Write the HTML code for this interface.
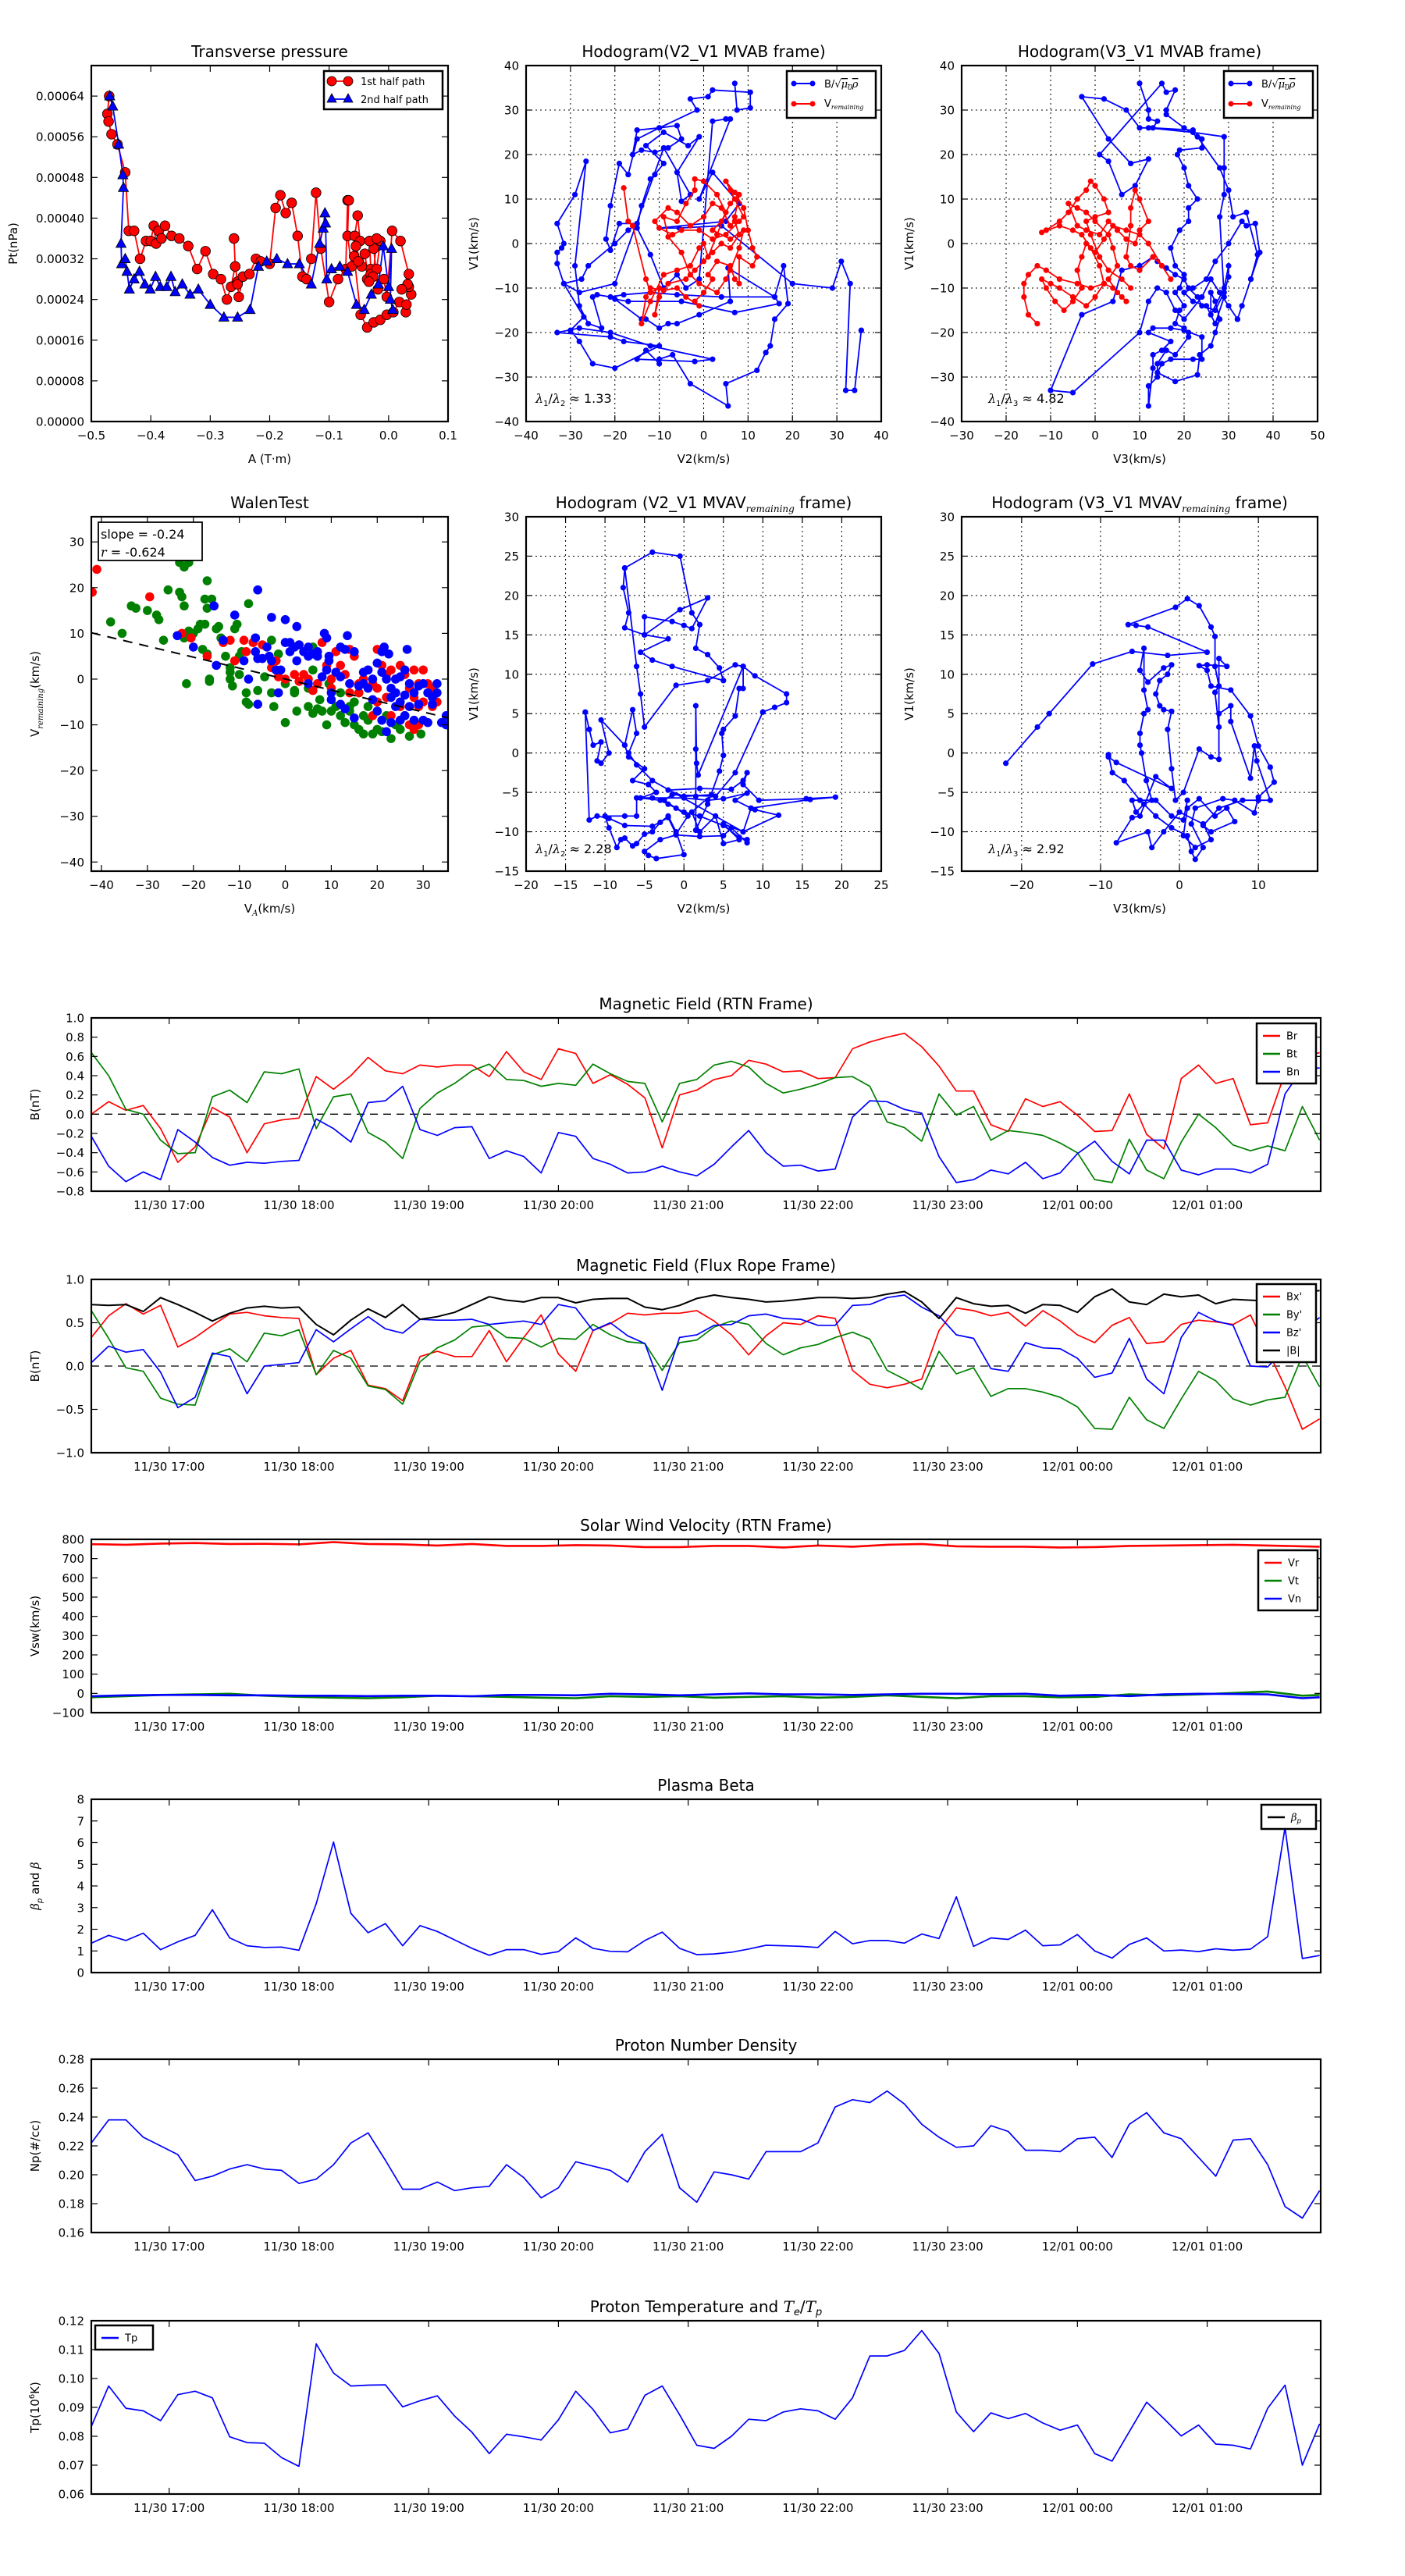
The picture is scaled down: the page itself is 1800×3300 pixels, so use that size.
<!DOCTYPE html>
<html>
<head>
<meta charset="utf-8">
<style>
html,body{margin:0;padding:0;background:#fff;}
svg{display:block;}
</style>
</head>
<body>
<svg id="chart" xmlns="http://www.w3.org/2000/svg" width="1800" height="3300" viewBox="0 0 1800 3300">
<rect x="0" y="0" width="1800" height="3300" fill="#fff"/>
</svg>
<script>
// ---------------- DATA ----------------
// Time-series grid (minutes after 11/30 16:00)
const tGrid = [24,32,40,48,56,64,72,80,88,96,104,112,120,128,136,144,152,160,168,176,184,192,200,208,216,224,232,240,248,256,264,272,280,288,296,304,312,320,328,336,344,352,360,368,376,384,392,400,408,416,424,432,440,448,456,464,472,480,488,496,504,512,520,528,536,544,552,560,568,576,584,592];
const timeTickValues = [60,120,180,240,300,360,420,480,540];
const timeTickLabels = ["11/30 17:00","11/30 18:00","11/30 19:00","11/30 20:00","11/30 21:00","11/30 22:00","11/30 23:00","12/01 00:00","12/01 01:00"];

const brValues = [0.00,0.13,0.04,0.09,-0.15,-0.50,-0.34,0.07,-0.03,-0.40,-0.10,-0.06,-0.04,0.39,0.26,0.40,0.59,0.45,0.42,0.51,0.49,0.51,0.51,0.39,0.65,0.44,0.36,0.68,0.63,0.32,0.41,0.31,0.17,-0.35,0.20,0.25,0.36,0.40,0.56,0.52,0.44,0.45,0.37,0.38,0.68,0.75,0.80,0.84,0.70,0.50,0.24,0.24,-0.11,-0.18,0.16,0.08,0.13,-0.01,-0.18,-0.17,0.21,-0.21,-0.36,0.37,0.51,0.32,0.37,-0.11,-0.09,0.43,0.59,0.64];
const btValues = [0.64,0.40,0.05,0.00,-0.27,-0.41,-0.40,0.18,0.25,0.12,0.44,0.42,0.47,-0.15,0.18,0.21,-0.19,-0.29,-0.46,0.06,0.22,0.32,0.45,0.52,0.36,0.35,0.29,0.32,0.30,0.52,0.42,0.34,0.32,-0.08,0.32,0.36,0.51,0.55,0.49,0.32,0.22,0.26,0.31,0.38,0.39,0.29,-0.08,-0.14,-0.28,0.21,-0.01,0.08,-0.27,-0.17,-0.19,-0.22,-0.30,-0.40,-0.68,-0.71,-0.26,-0.58,-0.67,-0.29,0.00,-0.14,-0.32,-0.38,-0.33,-0.38,0.08,-0.27];
const bnValues = [-0.23,-0.54,-0.70,-0.60,-0.68,-0.16,-0.29,-0.45,-0.53,-0.50,-0.51,-0.49,-0.48,-0.05,-0.15,-0.29,0.12,0.14,0.29,-0.16,-0.22,-0.14,-0.13,-0.46,-0.38,-0.44,-0.61,-0.19,-0.23,-0.46,-0.52,-0.61,-0.60,-0.54,-0.60,-0.64,-0.52,-0.34,-0.17,-0.40,-0.54,-0.53,-0.59,-0.57,-0.03,0.14,0.13,0.05,0.01,-0.44,-0.71,-0.68,-0.58,-0.62,-0.50,-0.67,-0.61,-0.41,-0.28,-0.49,-0.62,-0.27,-0.27,-0.58,-0.63,-0.57,-0.57,-0.61,-0.52,0.21,0.47,0.48];

const bxpValues = [0.33,0.58,0.72,0.60,0.70,0.22,0.33,0.47,0.60,0.62,0.58,0.56,0.55,-0.10,0.09,0.18,-0.22,-0.26,-0.40,0.11,0.17,0.11,0.11,0.41,0.05,0.33,0.59,0.14,-0.06,0.41,0.49,0.61,0.59,0.61,0.61,0.64,0.52,0.36,0.13,0.35,0.50,0.48,0.58,0.55,-0.05,-0.21,-0.25,-0.21,-0.15,0.41,0.67,0.64,0.58,0.62,0.46,0.64,0.52,0.36,0.27,0.47,0.56,0.26,0.28,0.48,0.53,0.51,0.48,0.59,0.18,-0.24,-0.73,-0.61];
const bypValues = [0.64,0.32,-0.02,-0.06,-0.37,-0.44,-0.45,0.13,0.20,0.05,0.38,0.35,0.42,-0.10,0.18,0.09,-0.23,-0.27,-0.44,0.05,0.21,0.30,0.45,0.47,0.33,0.32,0.22,0.32,0.31,0.48,0.36,0.28,0.26,-0.05,0.27,0.30,0.45,0.52,0.48,0.26,0.13,0.21,0.25,0.33,0.39,0.31,-0.05,-0.15,-0.27,0.17,-0.09,-0.02,-0.35,-0.26,-0.26,-0.30,-0.36,-0.47,-0.72,-0.73,-0.36,-0.62,-0.72,-0.38,-0.06,-0.17,-0.38,-0.45,-0.39,-0.36,0.12,-0.24];
const bzpValues = [0.04,0.23,0.16,0.19,-0.07,-0.48,-0.36,0.15,0.11,-0.32,0.00,0.02,0.04,0.42,0.28,0.43,0.57,0.43,0.38,0.54,0.53,0.53,0.54,0.48,0.50,0.52,0.48,0.71,0.67,0.41,0.50,0.35,0.26,-0.28,0.33,0.36,0.47,0.48,0.58,0.60,0.55,0.54,0.47,0.47,0.70,0.71,0.79,0.82,0.68,0.58,0.36,0.32,-0.03,-0.06,0.27,0.21,0.20,0.09,-0.13,-0.08,0.32,-0.15,-0.32,0.33,0.62,0.52,0.47,0.00,-0.01,0.20,0.41,0.56];
const bmagValues = [0.71,0.70,0.71,0.63,0.79,0.71,0.62,0.52,0.61,0.67,0.69,0.67,0.68,0.48,0.36,0.53,0.66,0.56,0.71,0.54,0.57,0.62,0.71,0.80,0.76,0.74,0.79,0.79,0.73,0.77,0.78,0.78,0.68,0.65,0.70,0.78,0.82,0.79,0.77,0.74,0.75,0.77,0.79,0.79,0.78,0.79,0.83,0.86,0.74,0.55,0.79,0.72,0.69,0.70,0.61,0.71,0.70,0.62,0.80,0.89,0.74,0.71,0.83,0.80,0.82,0.72,0.77,0.76,0.75,0.77,0.86,0.87];

const vTimes = [24,40,56,72,88,104,120,136,152,168,184,200,216,232,248,264,280,296,312,328,344,360,376,392,408,424,440,456,472,488,504,520,536,552,568,584,592];
const vrValues = [775,772,778,781,776,777,774,786,776,774,768,776,766,766,770,768,760,760,766,766,758,768,762,772,776,764,762,762,758,760,766,768,770,772,768,764,762];
const vtValues = [-20,-15,-8,-5,-2,-12,-18,-22,-25,-20,-12,-15,-18,-22,-25,-15,-18,-15,-22,-18,-15,-22,-18,-10,-18,-25,-15,-15,-20,-18,-5,-10,-5,2,10,-12,-8];
const vnValues = [-15,-10,-8,-8,-10,-10,-12,-12,-14,-12,-12,-15,-8,-8,-10,-2,-5,-10,-5,0,-5,-5,-8,-5,-2,-2,-4,-2,-12,-8,-14,-5,-2,-3,-5,-25,-20];

const betaValues = [1.36,1.72,1.48,1.82,1.06,1.42,1.72,2.90,1.60,1.24,1.16,1.18,1.03,3.18,6.03,2.74,1.84,2.26,1.24,2.17,1.90,1.51,1.12,0.80,1.06,1.06,0.84,0.97,1.60,1.12,0.98,0.96,1.48,1.87,1.12,0.83,0.86,0.94,1.09,1.26,1.24,1.21,1.16,1.90,1.33,1.48,1.48,1.36,1.78,1.57,3.50,1.21,1.60,1.53,1.96,1.24,1.28,1.76,1.00,0.67,1.30,1.60,1.00,1.04,0.97,1.10,1.03,1.08,1.66,6.70,0.65,0.79];
const npValues = [0.222,0.238,0.238,0.226,0.220,0.214,0.196,0.199,0.204,0.207,0.204,0.203,0.194,0.197,0.207,0.222,0.229,0.210,0.190,0.190,0.195,0.189,0.191,0.192,0.207,0.198,0.184,0.191,0.209,0.206,0.203,0.195,0.216,0.228,0.191,0.181,0.202,0.200,0.197,0.216,0.216,0.216,0.222,0.247,0.252,0.250,0.258,0.249,0.235,0.226,0.219,0.220,0.234,0.230,0.217,0.217,0.216,0.225,0.226,0.212,0.235,0.243,0.229,0.225,0.212,0.199,0.224,0.225,0.207,0.178,0.170,0.189];
const tpValues = [0.0834,0.0974,0.0897,0.0888,0.0854,0.0944,0.0956,0.0933,0.0798,0.0778,0.0776,0.0726,0.0696,0.1120,0.1019,0.0974,0.0977,0.0978,0.0902,0.0923,0.0940,0.0870,0.0814,0.0740,0.0807,0.0798,0.0787,0.0857,0.0956,0.0893,0.0812,0.0825,0.0942,0.0974,0.0875,0.0769,0.0758,0.0800,0.0859,0.0854,0.0884,0.0895,0.0888,0.0859,0.0933,0.1078,0.1078,0.1097,0.1166,0.1087,0.0884,0.0816,0.0881,0.0861,0.0879,0.0846,0.0821,0.0839,0.0740,0.0714,0.0816,0.0918,0.0861,0.0801,0.0839,0.0773,0.0769,0.0756,0.0897,0.0977,0.0700,0.0843];

// Transverse pressure: [A (T·m), Pt (x1e-4 nPa)]
const ptFirstHalf = [[-0.470,6.4],[-0.473,6.05],[-0.471,5.9],[-0.466,5.65],[-0.456,5.45],[-0.443,4.9],[-0.437,3.75],[-0.428,3.75],[-0.418,3.2],[-0.408,3.55],[-0.400,3.55],[-0.395,3.85],[-0.391,3.5],[-0.387,3.75],[-0.382,3.6],[-0.376,3.85],[-0.365,3.65],[-0.352,3.6],[-0.337,3.45],[-0.322,3.0],[-0.308,3.35],[-0.295,2.9],[-0.282,2.8],[-0.272,2.4],[-0.265,2.65],[-0.258,3.05],[-0.260,3.6],[-0.258,3.05],[-0.254,2.75],[-0.254,2.7],[-0.252,2.45],[-0.245,2.85],[-0.234,2.9],[-0.223,3.2],[-0.215,3.15],[-0.200,3.1],[-0.190,4.2],[-0.182,4.45],[-0.173,4.1],[-0.163,4.3],[-0.153,3.65],[-0.145,2.85],[-0.138,2.8],[-0.130,3.2],[-0.122,4.5],[-0.114,3.4],[-0.100,2.35],[-0.085,2.8],[-0.072,3.0],[-0.069,4.35],[-0.067,4.35],[-0.069,3.65],[-0.062,3.05],[-0.057,3.65],[-0.052,4.05],[-0.048,3.55],[-0.058,3.25],[-0.047,2.1],[-0.036,1.85],[-0.025,1.95],[-0.014,2.0],[-0.003,2.1],[0.008,2.15],[0.018,2.35],[0.029,2.15],[0.030,2.3],[0.038,2.5],[0.034,2.65],[0.032,2.7],[0.022,2.6],[0.034,2.9],[0.020,3.55],[0.006,3.75],[-0.003,2.45],[-0.008,2.8],[-0.018,2.6],[-0.025,3.4],[-0.032,3.55],[-0.030,3.0],[-0.036,2.8],[-0.030,2.9],[-0.020,3.0],[-0.014,3.55],[-0.020,3.6],[-0.026,2.85],[-0.033,2.75],[-0.040,3.3],[-0.045,3.05],[-0.055,3.45],[-0.051,3.15]];
const ptSecondHalf = [[-0.469,6.4],[-0.464,6.2],[-0.454,5.45],[-0.447,4.85],[-0.446,4.6],[-0.450,3.5],[-0.449,3.1],[-0.443,3.2],[-0.440,2.95],[-0.436,2.6],[-0.428,2.8],[-0.419,2.95],[-0.410,2.7],[-0.401,2.6],[-0.392,2.85],[-0.384,2.65],[-0.373,2.65],[-0.366,2.85],[-0.359,2.55],[-0.347,2.7],[-0.334,2.5],[-0.320,2.6],[-0.300,2.3],[-0.277,2.05],[-0.254,2.05],[-0.233,2.2],[-0.219,3.05],[-0.205,3.15],[-0.188,3.2],[-0.170,3.1],[-0.150,3.1],[-0.130,2.7],[-0.116,3.5],[-0.110,3.8],[-0.107,4.1],[-0.106,3.9],[-0.104,2.8],[-0.096,3.0],[-0.082,3.05],[-0.069,2.95],[-0.054,2.3],[-0.041,2.2],[-0.029,2.5],[-0.017,2.7],[-0.009,3.45],[0.000,2.65],[0.005,3.4],[0.003,2.4],[0.007,2.2]];

// Hodogram V2_V1 MVAB: [V2, V1]
const hodo1B = [[7,36],[7.5,30],[10.5,30.5],[10.5,34],[2,34.5],[1,33],[-3,32.5],[-1.5,30],[-10,26],[-6,26.5],[-5,23.5],[-8,21.5],[-11,20.5],[-14,21],[-16,20],[-15,25.5],[-10,26],[-15,23.5],[-17,15.5],[-19,18],[-21,8.5],[-22,1],[-21,-1.5],[-19,4.5],[-15,4.5],[-17,3],[-20,0],[-26,-5],[-27.5,-8],[-31.5,-9],[-33,-4.5],[-33,-2],[-32,-1],[-31.5,0],[-33,4.5],[-29,11],[-26.5,18.5],[-29,-5],[-28,-14],[-26,-18],[-23,-19],[-25,-12],[-24,-11.5],[-21,-12],[-18,-11.5],[-12,-11],[-6,-11.5],[4,-12],[16,-12],[17,-13.5],[7,-15.5],[-5,-13],[-17,-13],[-20,-12.5],[-14,-17],[-13,-17],[-10,-19],[-8,-18],[-6,-18],[-1,-16],[6,-13],[5.5,-5.5],[16,-12],[18,-5],[19,-13.5],[16,-17],[15,-23],[14,-24.5],[12,-28.5],[5,-31.5],[5.5,-36.5],[-3,-31.5],[-7,-25],[-10,-26],[-10,-27],[-13,-24],[-15,-26],[-2,-26.5],[2,-26],[-12,-23],[-21,-20],[-28,-19],[-33,-20],[-21,-21],[-18,-22],[-10,-23],[-20,-28],[-25,-27],[-28,-22],[-30,-19.5],[-27,-16.5],[-31.5,-9],[-28,-11],[-20,-9],[-9,21.5],[-3,11],[-5,9.5],[-6,16],[-1,24],[-3.5,22],[-9,25],[-13,22],[-9,18],[-11,15.5],[-12,14.5],[-14,8.5],[-15,3.5],[-12,-2.5],[-9,-10],[-6,-7],[-4,-10],[-1,-8],[2,27.5],[5,28],[6,28],[-1,10],[2,16],[8,9],[5,5],[-10,3.5],[-5.5,3.5],[4,4],[20,-9],[29,-10],[31,-4],[33,-9],[32,-33],[34,-33],[35.5,-19.5]];
const hodo1V = [[-18,12.5],[-17,5],[-16,4],[-13,-8],[-12,-11],[-10,-10],[-11,-16],[-10,-12],[-8,-9],[-4,-8],[-2,-6],[0,-4],[2,-2],[4,0],[6,-1],[8,2],[7,5],[6,4],[4,8],[2,9],[0,6],[-3,4],[-6,7],[-8,8],[-11,5],[-10,3.5],[-7,2],[-5,3],[-1,3],[2,1],[5,2],[8,5],[9,6],[7,10],[6,12],[5,14],[7,11.5],[9,8],[10,3],[11,-1],[12,-3],[11,-5],[8,-3],[8,-9],[7,-8],[6,-5],[3,-4],[1,-7],[2,-8],[0,-11],[-2,-13],[-1,-14],[-4,-12],[-6,-10],[-9,-10.5],[-12,-10],[-13,-12],[-14,-18],[-12,-13],[-9,-7],[-6,-6],[-3,-5],[-1,-1],[0,0],[1,-3],[3,2],[5,7],[3,11],[0,14],[-2,14.5],[-2,12],[-4,9],[-6,5],[-9,6],[-8,1.5],[-5,-2],[-3,-7],[-1,-9],[3,-11],[5,-8],[6,-6],[8,-1],[9,3],[6,1],[2,3],[4,5],[6,9],[8,11],[7,6]];

// Hodogram V3_V1 MVAB: [V3, V1]
const hodo2B = [[10,36],[12,30],[12,28],[14,27.5],[13,26],[22,25.5],[24,23.5],[24,21.5],[19,21],[18.5,20],[20,17],[21,13],[23,10],[21,8],[21,5],[19,3],[17,-1],[18,-5],[20,-7],[19,-10],[18,-11],[20,-14],[19,-15],[18,-18],[20,-19],[21,-20],[21,-21],[18,-25],[16,-24],[14,-27],[14,-30],[12,-32],[12,-36.5],[13,-28],[13,-25],[15,-24],[17,-22],[12,-20],[13,-19],[17,-19],[20,-19.5],[24,-21],[24,-26],[22,-26],[17,-26],[15,-27],[14,-29],[18,-31],[23,-29.5],[23.5,-25],[26,-23],[27,-20],[28,-17],[27,-13],[26,-11],[26,-16],[29,-10],[30,-5],[30,-7.5],[29,-11],[27,-15],[24,-14],[23,-12],[21,-10],[20,-8],[18,-7],[16,-5.5],[14,-4],[13,-3],[10,-5],[6,-6],[4,-13],[-3,-16],[-10,-33],[-5,-33.5],[10,-20],[12,-13],[14,-10],[16,-11],[18,-15],[20,-17],[24,-12],[26,-8],[28,-11],[30,-14],[32,-17],[33,-14],[35,-8],[37,-2],[36,4.5],[34,4],[33,5],[30,0],[27,-4],[25,-8],[22,-10],[20,-11],[22,-13],[25,-14],[27,-18],[29,-12],[28,6],[29,11],[29,17],[29,24],[22,25],[12,26],[10,26],[7,30],[2,32.5],[-3,33],[3,23.5],[8,18],[12,19],[9,13],[6,11],[3,18.5],[1,20],[15,36],[16,34],[18,34.5],[16,30],[16,29],[20,26],[23,24],[28,17],[30,12],[31,6],[34,7],[36.5,-2.5],[35,-8],[32,-17]];
const hodo2V = [[-13,-18],[-15,-16],[-16,-12],[-16,-9],[-15,-7],[-13,-5],[-11,-6],[-8,-8],[-4,-9],[-1,-10],[2,-9],[4,-10],[6,-12],[7,-13],[5,-11],[3,-8],[5,-5],[4,-1],[3,2],[0,5],[-2,7],[-4,8],[-6,9],[-4,4],[-2,3],[1,2],[3,5],[5,3],[7,1],[9,0],[10,3],[12,5],[10,10],[9,12],[8,8],[8,4],[7,-3],[8,-5],[10,-6],[13,-3],[15,-5],[17,-8],[15,-5],[12,0],[10,2],[7,3],[4,4],[2,1],[0,-2],[-2,0],[-3,-3],[-4,-6],[-3,-10],[-5,-13],[-7,-15],[-9,-13],[-11,-10],[-12,-8],[-10,-9],[-8,-10],[-5,-12],[-2,-14],[0,-12],[2,-9],[1,-5],[-1,-1],[-3,2],[-5,3],[-8,4],[-12,2.5],[-11,3],[-8,5],[-6,7],[-4,10],[-2,12],[-1,14],[0,13],[2,10],[3,7],[0,6],[-2,5],[-1,2],[1,-3],[3,-6],[6,-8],[8,-10]];

// Walen test: [V_A, V_remaining]
const walenRed = [[-42,19],[-41,24],[-29.5,18],[-22.5,10],[-20.5,9],[-17,5],[-13.5,8],[-12,8.5],[-11,4],[-9,8.5],[-8.5,6],[-7,8],[-5,7.5],[-3,2.5],[-2,4],[-1.5,0.5],[0,0],[2,1],[4,1],[5,0],[6,-2.5],[7,-1],[8,8],[9,3],[10,0],[11,6],[12,3],[13,1],[14,6.5],[15,5],[16,-3],[17,0],[18,2],[19,-1],[20,-2],[20,6.5],[21,3],[22,-4],[22,1],[23,2],[24,0],[24,-3],[25,3],[25,-6],[26,1],[26,-8],[27,-2],[27,-10],[28,2],[28,-4],[28,-11],[29,-1],[29,-6],[29,-10],[30,2],[30,-5],[31,-1],[32,-2],[32,-6],[33,-5],[20,-5],[19,-8],[23,-8],[25,-9],[14,-3],[16,-1],[10,-2],[3,-0.5]];
const walenGreen = [[-38,12.5],[-35.5,10],[-33.5,16],[-32.5,15.5],[-30,15],[-28,14],[-27.5,13],[-26.5,8.5],[-25.5,19.5],[-23,25.5],[-22,24.5],[-21,25.5],[-23,19],[-22.5,18],[-22,16],[-22,9],[-21,10.5],[-20,10],[-19,11],[-18.5,12],[-17.5,12],[-17,21.5],[-17.5,17.5],[-16,17.5],[-17,15.5],[-18,6.5],[-17,5.5],[-16.5,0],[-16.5,-0.5],[-21.5,-1],[-15,11],[-14.5,11.5],[-14,9],[-13,5],[-12,2.5],[-12,1.5],[-12,0],[-11.5,-1.5],[-11,11],[-10.5,12],[-10,5],[-10,1],[-9.5,6],[-8,16.5],[-8.5,-3],[-8.5,-5],[-8,-5.5],[-6.5,9],[-6,-2.5],[-4.5,0.5],[-3,8.5],[-3,-3],[-2.5,-6],[-2,2],[-1.5,5.5],[0,-9.5],[0,-1],[2,-3],[2,-2.5],[2.5,-7],[5,-2],[5,-6],[6,7],[6,2],[6,-7.5],[7,-6.5],[7.5,-4.5],[8,-7],[9,-10],[9.5,-1],[10,-7],[11,-6],[12,-8],[13,-9.5],[14,-7],[15,-5],[15,-10],[16,-11],[17,-8],[17,-12],[18,-9],[19,-12],[20,-11],[21,-11.5],[22,-8],[23,-13],[24,-10],[25,-11],[26,-8],[27,-12.5],[29.5,-12],[12,-3],[14,-6],[16,-3],[18,-6]];
const walenBlue = [[-23.5,9.5],[-20,7],[-15.5,16],[-15,3],[-13.5,8.5],[-11,14],[-9,4],[-8,0],[-6.5,9],[-6.5,6],[-6,19.5],[-6,4.5],[-6,-5.5],[-5,4.5],[-4,7],[-3.5,5],[-3,13.5],[-3,4],[-2,2],[-1.5,-3],[-1,2],[0,8],[0,13],[1,8],[1,6],[2,7],[2.5,4],[2.5,11.5],[3,7.5],[4,6],[5,7],[5,5],[5,-1],[6,5.5],[7,6],[7,5],[8,0.5],[8.5,10],[9,9],[9,2],[9.5,5],[9.5,4],[10,-3],[10,-4.5],[11,1.5],[12,7],[13,6.5],[12,0.5],[12,-5.5],[13,-6.5],[13.5,9.5],[14,-1],[15,6],[15,-8.5],[16,-1.5],[17,1.5],[17,-1],[18,2],[18,-2],[19,0],[19,-4.5],[20,3.5],[20,-7],[21,6],[21,1.5],[21,-9],[21.5,7],[22,0],[22,-11.5],[22.5,5.5],[23,-2],[23,-4],[23,-9.5],[24,0],[24,-3],[24,-6],[25,0.5],[25,-5],[25,-9],[26,2],[26,-3.5],[26,-8],[26.5,6.5],[27,-1],[27,-6],[28,-3],[28,-9],[29,-1.5],[29,-5.5],[30,-9],[30,-1],[31,-3],[31,-9.5],[32,-4],[32,-5.5],[33,-1],[33,-3],[34,-9.5],[35,-8],[35,-10]];
const walenSlope = [-0.24];

// Hodogram V2_V1 MVAV_remaining
const hodo3B = [[-7.5,23.5],[-4,25.5],[-0.5,25],[1,17.8],[2,16.3],[1.5,13.3],[3,12.5],[4.5,10.8],[5,9.2],[-1.5,11],[-4,11.8],[-5.5,12.8],[-2,14.5],[-5,15],[-5,17.3],[-1.5,16.7],[0,16.2],[1,15.8],[3,19.7],[-0.5,18.2],[-5,15],[-7.5,15.9],[-7,17.8],[-7.7,21],[-7.5,23.5],[-6,11],[-5.5,7.5],[-5,3.3],[-1,8.6],[3,9.2],[6.5,11.2],[7.5,11],[7.5,8.2],[7,8.2],[6.5,4.7],[5,3],[4.8,2.5],[5,-0.3],[4.5,-2.3],[3,-6.5],[1.5,-9.8],[1.5,-5.5],[1.5,0.5],[1.5,6],[1.6,-1.3],[1.8,-2.8],[7.5,11],[9,9.8],[13,7.5],[13,6.4],[11.5,5.8],[10,5.2],[6.5,-2.5],[4,-5.5],[-1.5,-5.3],[-2.5,-6],[0.5,-8],[-1,-10.3],[-2,-8.2],[-4,-9.3],[-7.5,-9.2],[-9.5,-8.3],[-11,-8],[-12,-8.5],[-12.5,5.2],[-12,3],[-11.5,1],[-10.5,1.4],[-11,-1],[-10.5,-1.3],[-9.5,0],[-10.5,4.2],[-7.5,1],[-7,-0.5],[-5,-2],[-6.5,-3.5],[-4.5,-4],[-3.5,-5],[-5.5,-5.7],[-3,-6],[-2,-6.5],[-1,-7],[0,-7.5],[2,-8],[5,-9.2],[7,-10.7],[8,-11],[8,-11.4],[6,-9.5],[5,-10.5],[2,-10.6],[-1,-10.4],[-3,-11],[-5,-12.5],[-4.5,-13],[-3.5,-13.4],[0,-12.9],[-1,-10],[-2,-8],[-3,-8.8],[-4,-10],[-5,-10.3],[-6,-11.5],[-6.5,-11.8],[-7.5,-10.8],[-8,-11],[-8.5,-12],[-9.5,-9.5],[-10,-8],[-7.5,-8],[-6,-8],[-6,-5.7],[-4,-5.7],[0,-5.7],[3,-6],[5,-5.8],[8,-5.1],[6.5,-6],[8.5,-7],[9,-7.2],[12,-7.9],[7.5,-10],[5,-9],[7,-11],[5,-11.5],[4,-8],[2,-10],[1,-7.5],[3.5,-5.3],[0,-5.5],[-2,-4.7],[2,-4.5],[6,-4.6],[7.5,-3.5],[8,-2.5],[7.5,-4],[9.5,-6],[15.5,-5.8],[19.2,-5.6],[16,-5.9],[8.5,-7],[7.5,-10],[-4,-3.5],[-6,-1.5],[-7,0],[-6,2.5],[-6.5,5.5],[-7.5,1]];
// Hodogram V3_V1 MVAV_remaining
const hodo4B = [[-22,-1.3],[-18,3.3],[-16.5,5],[-11,11.3],[-6,12.9],[-1.5,12.4],[3.5,12.8],[-4,16],[-5.5,16.2],[-6.5,16.3],[-0.5,18.5],[1,19.6],[2.5,18.7],[4,16],[4.5,14.8],[4.5,11],[5,8.5],[4.5,7.7],[5,3.3],[5,12],[6,11],[3.5,11.2],[2.5,11.1],[3.5,10.5],[4,8.5],[6.5,8],[9,4.7],[10,0.9],[11.5,-1.8],[12,-3.7],[10,-5.6],[9.5,-7.6],[7,-6],[5.5,-5.8],[2,-7],[1.5,-9],[3,-12],[2,-13.5],[1.5,-12.5],[1,-10.5],[-1,-9.5],[-3,-8],[-5,-6],[-7,-3.5],[-8.5,-2.5],[-9,-0.2],[-9,-0.5],[-8,-1.2],[-1,-4.5],[-3,-3],[-5,-8],[-6,-8.2],[-8,-11.4],[-4,-10],[-3.5,-12],[-2,-10],[0,-7.5],[3,-9],[4,-11],[2,-12],[0.5,-10.5],[1,-7],[2.5,-5.8],[4.5,-8],[6,-7],[7,-8.7],[4,-10],[3,-9.2],[5,-7],[8,-6],[10,-6],[11.5,-6],[9.8,-1],[9.5,0.9],[9,-3.2],[6.5,4],[6.5,6],[5,5],[5,-0.8],[4,-0.5],[2.5,0.5],[0.5,-5],[-0.5,-6],[-1,-2],[-1.5,3],[-1,5.3],[-2,5.5],[-2.5,6],[-3,7.5],[-2.5,9.2],[-1.5,10],[-1,11.2],[-2,10.8],[-4,9],[-5,10.5],[-4.5,13.3],[-4.5,8],[-4,5.5],[-4.5,5],[-5,2.5],[-5,1],[-4.8,0],[-4.2,-3.5],[-3.5,-6],[-4.5,-6.5],[-5.5,-7.5],[-6,-6],[-3,-6],[-1,-8],[0.5,-8.5],[1,-6]];

// ---------------- DRAWING ----------------
const NS = 'http://www.w3.org/2000/svg';
const svg = document.getElementById('chart');
const FONT = '"DejaVu Sans","Liberation Sans",sans-serif';
function el(tag, attrs, parent) {
  const e = document.createElementNS(NS, tag);
  for (const k in attrs) e.setAttribute(k, attrs[k]);
  (parent || svg).appendChild(e);
  return e;
}
function txt(str, attrs, parent) {
  const e = el('text', Object.assign({'font-family': FONT, fill: '#000'}, attrs), parent);
  e.textContent = str;
  return e;
}
function lin(d0, d1, r0, r1) { return v => r0 + (v - d0) / (d1 - d0) * (r1 - r0); }
function mfmt(v, dec) { const s = v.toFixed(dec); return (Math.abs(v) < 1e-12 ? Math.abs(v).toFixed(dec) : s).replace('-', '\u2212'); }
function range(a, b, s) { const r = []; for (let v = a; v <= b + s * 1e-6; v += s) r.push(+v.toFixed(8)); return r; }

function axes(o) {
  const g = el('g', {});
  
  
  const sx = lin(o.xd[0], o.xd[1], o.x, o.x + o.w);
  const sy = lin(o.yd[0], o.yd[1], o.y + o.h, o.y);
  const cp = el('clipPath', {id: 'clip-' + o.name}, g);
  el('rect', {x: o.x, y: o.y, width: o.w, height: o.h}, cp);
  const gridG = el('g', {}, g);
  
  
  const dataG = el('g', {'clip-path': 'url(#clip-' + o.name + ')'}, g);
  
  
  const frameG = el('g', {}, g);
  
  
  const TL = 8;
  o.xticks.forEach((v, i) => {
    const X = sx(v);
    if (X < o.x - 0.5 || X > o.x + o.w + 0.5) return;
    if (o.grid) {
      const gl = el('line', {x1: X, x2: X, y1: o.y, y2: o.y + o.h, stroke: '#000', 'stroke-width': 1, 'stroke-dasharray': '2,4'}, gridG);
      
      
    }
    const t1 = el('line', {x1: X, x2: X, y1: o.y + o.h, y2: o.y + o.h - TL, stroke: '#000', 'stroke-width': 1.2}, frameG);
    
    
    const t2 = el('line', {x1: X, x2: X, y1: o.y, y2: o.y + TL, stroke: '#000', 'stroke-width': 1.2}, frameG);
    
    
    const lab = txt(o.xlabels ? o.xlabels[i] : o.xfmt(v), {x: X, y: o.y + o.h + 23, 'font-size': 15, 'text-anchor': 'middle'}, frameG);
    
    
  });
  o.yticks.forEach(v => {
    const Y = sy(v);
    if (o.grid) {
      const gl = el('line', {x1: o.x, x2: o.x + o.w, y1: Y, y2: Y, stroke: '#000', 'stroke-width': 1, 'stroke-dasharray': '2,4'}, gridG);
      
      
    }
    const t1 = el('line', {x1: o.x, x2: o.x + TL, y1: Y, y2: Y, stroke: '#000', 'stroke-width': 1.2}, frameG);
    
    
    const t2 = el('line', {x1: o.x + o.w, x2: o.x + o.w - TL, y1: Y, y2: Y, stroke: '#000', 'stroke-width': 1.2}, frameG);
    
    
    const lab = txt(o.yfmt(v), {x: o.x - 9, y: Y + 5.5, 'font-size': 15, 'text-anchor': 'end'}, frameG);
    
    
  });
  const box = el('rect', {x: o.x, y: o.y, width: o.w, height: o.h, fill: 'none', stroke: '#000', 'stroke-width': 2.2}, frameG);
  
  
  if (o.title) {
    const t = txt('', {x: o.x + o.w / 2, y: o.y - 11, 'font-size': 20, 'text-anchor': 'middle'}, frameG);
    t.innerHTML = o.title;
    
    
  }
  if (o.xtitle) {
    const t = txt('', {x: o.x + o.w / 2, y: o.y + o.h + 53, 'font-size': 15, 'text-anchor': 'middle'}, frameG);
    t.innerHTML = o.xtitle;
    
    
  }
  if (o.ytitle) {
    const t = txt('', {x: 0, y: 0, 'font-size': 15, 'text-anchor': 'middle', transform: 'translate(' + o.ytx + ',' + (o.y + o.h / 2) + ') rotate(-90)'}, frameG);
    t.innerHTML = o.ytitle;
    
    
  }
  return {g, dataG, frameG, sx, sy};
}
function polyline(ax, xs, ys, color, width, parent) {
  const pts = xs.map((x, i) => ax.sx(x).toFixed(1) + ',' + ax.sy(ys[i]).toFixed(1)).join(' ');
  return el('polyline', {points: pts, fill: 'none', stroke: color, 'stroke-width': width, 'stroke-linejoin': 'round'}, parent || ax.dataG);
}
function legendBox(x, y, w, h, parent) {
  const r = el('rect', {x, y, width: w, height: h, fill: '#fff', stroke: '#000', 'stroke-width': 2.5}, parent);
  return r;
}

// ---------- Transverse pressure ----------
{
  const ax = axes({name: 'transverse-pressure', x: 117, y: 84, w: 457, h: 456, xd: [-0.5, 0.1], yd: [0, 0.0007],
    xticks: range(-0.5, 0.1, 0.1), yticks: range(0, 0.00064, 0.00008), xfmt: v => mfmt(v, 1), yfmt: v => v.toFixed(5),
    title: 'Transverse pressure', xtitle: 'A (T·m)', ytitle: 'Pt(nPa)', ytx: 22});
  const sy = v => ax.sy(v * 1e-4);
  const l1 = el('polyline', {points: ptFirstHalf.map(p => ax.sx(p[0]) + ',' + sy(p[1])).join(' '), fill: 'none', stroke: '#f00', 'stroke-width': 1.8}, ax.dataG);
  
  
  const l2 = el('polyline', {points: ptSecondHalf.map(p => ax.sx(p[0]) + ',' + sy(p[1])).join(' '), fill: 'none', stroke: '#00f', 'stroke-width': 1.8}, ax.dataG);
  
  
  ptFirstHalf.forEach(p => {
    const c = el('circle', {cx: ax.sx(p[0]), cy: sy(p[1]), r: 6.3, fill: '#f00', stroke: '#000', 'stroke-width': 0.8}, ax.dataG);
    
    
  });
  ptSecondHalf.forEach(p => {
    const X = ax.sx(p[0]), Y = sy(p[1]);
    const t = el('polygon', {points: `${X},${Y - 7} ${X - 6.5},${Y + 5} ${X + 6.5},${Y + 5}`, fill: '#00f', stroke: '#000', 'stroke-width': 0.8}, ax.dataG);
    
    
  });
  const lg = el('g', {}, ax.frameG);
  
  
  legendBox(415, 91, 152, 49, lg);
  el('line', {x1: 425, x2: 446, y1: 104, y2: 104, stroke: '#f00', 'stroke-width': 1.8}, lg);
  el('circle', {cx: 425, cy: 104, r: 6, fill: '#f00', stroke: '#000', 'stroke-width': 0.8}, lg);
  el('circle', {cx: 446, cy: 104, r: 6, fill: '#f00', stroke: '#000', 'stroke-width': 0.8}, lg);
  const e1 = txt('1st half path', {x: 462, y: 109, 'font-size': 13}, lg);
  
  
  el('line', {x1: 425, x2: 446, y1: 127, y2: 127, stroke: '#00f', 'stroke-width': 1.8}, lg);
  el('polygon', {points: '425,120 419,131 431,131', fill: '#00f', stroke: '#000', 'stroke-width': 0.8}, lg);
  el('polygon', {points: '446,120 440,131 452,131', fill: '#00f', stroke: '#000', 'stroke-width': 0.8}, lg);
  const e2 = txt('2nd half path', {x: 462, y: 132, 'font-size': 13}, lg);
  
  
}

// ---------- Hodograms ----------
function hodoLegend(ax, x, showV) {
  const lg = el('g', {}, ax.frameG);
  
  
  legendBox(x, 91, 114, 60, lg);
  el('line', {x1: x + 9, x2: x + 33, y1: 107, y2: 107, stroke: '#00f', 'stroke-width': 2}, lg);
  el('circle', {cx: x + 9, cy: 107, r: 3.5, fill: '#00f'}, lg);
  el('circle', {cx: x + 33, cy: 107, r: 3.5, fill: '#00f'}, lg);
  const a = txt('', {x: x + 48, y: 112, 'font-size': 13}, lg);
  a.innerHTML = 'B/<tspan font-family="DejaVu Serif" font-style="italic">√<tspan text-decoration="overline">μ<tspan font-size="9" dy="3">0</tspan><tspan dy="-3">ρ</tspan></tspan></tspan>';
  
  
  el('line', {x1: x + 9, x2: x + 33, y1: 133, y2: 133, stroke: '#f00', 'stroke-width': 2}, lg);
  el('circle', {cx: x + 9, cy: 133, r: 3.5, fill: '#f00'}, lg);
  el('circle', {cx: x + 33, cy: 133, r: 3.5, fill: '#f00'}, lg);
  const b = txt('', {x: x + 48, y: 137, 'font-size': 13}, lg);
  b.innerHTML = 'V<tspan font-size="8" font-style="italic" font-family="DejaVu Serif" dy="3">remaining</tspan>';
  
  
}
function drawPath(ax, pts, color, name) {
  const l = el('polyline', {points: pts.map(p => ax.sx(p[0]).toFixed(1) + ',' + ax.sy(p[1]).toFixed(1)).join(' '), fill: 'none', stroke: color, 'stroke-width': 1.8}, ax.dataG);
  
  
  pts.forEach(p => {
    const c = el('circle', {cx: ax.sx(p[0]), cy: ax.sy(p[1]), r: 3.6, fill: color}, ax.dataG);
    
    
  });
}
function lambdaLabel(ax, x, y, sub, val) {
  const t = txt('', {x, y, 'font-size': 16}, ax.frameG);
  t.innerHTML = '<tspan font-family="DejaVu Serif" font-style="italic">λ</tspan><tspan font-size="10" dy="4">1</tspan><tspan dy="-4">/</tspan><tspan font-family="DejaVu Serif" font-style="italic">λ</tspan><tspan font-size="10" dy="4">' + sub + '</tspan><tspan dy="-4"> ≈ ' + val + '</tspan>';
  
  
}
{
  const ax = axes({name: 'hodogram-v2-v1-mvab', x: 674, y: 84, w: 455, h: 456, xd: [-40, 40], yd: [-40, 40],
    xticks: range(-40, 40, 10), yticks: range(-40, 40, 10), xfmt: v => mfmt(v, 0), yfmt: v => mfmt(v, 0), grid: true,
    title: 'Hodogram(V2_V1 MVAB frame)', xtitle: 'V2(km/s)', ytitle: 'V1(km/s)', ytx: 612});
  drawPath(ax, hodo1B, '#00f', 'b-hodogram');
  drawPath(ax, hodo1V, '#f00', 'v-remaining-hodogram');
  hodoLegend(ax, 1008);
  lambdaLabel(ax, 686, 516, '2', '1.33');
}
{
  const ax = axes({name: 'hodogram-v3-v1-mvab', x: 1232, y: 84, w: 456, h: 456, xd: [-30, 50], yd: [-40, 40],
    xticks: range(-30, 50, 10), yticks: range(-40, 40, 10), xfmt: v => mfmt(v, 0), yfmt: v => mfmt(v, 0), grid: true,
    title: 'Hodogram(V3_V1 MVAB frame)', xtitle: 'V3(km/s)', ytitle: 'V1(km/s)', ytx: 1170});
  drawPath(ax, hodo2B, '#00f', 'b-hodogram');
  drawPath(ax, hodo2V, '#f00', 'v-remaining-hodogram');
  hodoLegend(ax, 1568);
  lambdaLabel(ax, 1266, 516, '3', '4.82');
}
// ---------- Walen test ----------
{
  const ax = axes({name: 'walen-test', x: 117, y: 662, w: 457, h: 454, xd: [-42.2, 35.4], yd: [-42, 35.5],
    xticks: range(-40, 30, 10), yticks: range(-40, 30, 10), xfmt: v => mfmt(v, 0), yfmt: v => mfmt(v, 0),
    title: 'WalenTest', xtitle: 'V<tspan font-size="10" dy="4" font-style="italic" font-family="DejaVu Serif">A</tspan><tspan dy="-4">(km/s)</tspan>',
    ytitle: 'V<tspan font-size="10" dy="5" font-style="italic" font-family="DejaVu Serif">remaining</tspan><tspan dy="-5">(km/s)</tspan>', ytx: 50});
  const groups = [[walenGreen, '#008000', 'walen-point-green'], [walenRed, '#f00', 'walen-point-red'], [walenBlue, '#00f', 'walen-point-blue']];
  groups.forEach(gp => gp[0].forEach(p => {
    const c = el('circle', {cx: ax.sx(p[0]), cy: ax.sy(p[1]), r: 5.8, fill: gp[1]}, ax.dataG);
    
    
  }));
  const fit = el('line', {x1: ax.sx(-42.2), y1: ax.sy(-42.2 * walenSlope[0]), x2: ax.sx(35.4), y2: ax.sy(35.4 * walenSlope[0]), stroke: '#000', 'stroke-width': 2, 'stroke-dasharray': '12,9'}, ax.dataG);
  
  
  const bx = el('g', {}, ax.frameG);
  
  
  el('rect', {x: 126, y: 669, width: 133, height: 49, fill: '#fff', stroke: '#000', 'stroke-width': 1.8}, bx);
  txt('slope = ' + walenSlope[0].toFixed(2), {x: 129, y: 690, 'font-size': 16}, bx);
  const rt = txt('', {x: 129, y: 713, 'font-size': 16}, bx);
  rt.innerHTML = '<tspan font-family="DejaVu Serif" font-style="italic">r</tspan> = -0.624';
}
{
  const ax = axes({name: 'hodogram-v2-v1-mvav', x: 674, y: 662, w: 455, h: 454, xd: [-20, 25], yd: [-15, 30],
    xticks: range(-20, 25, 5), yticks: range(-15, 30, 5), xfmt: v => mfmt(v, 0), yfmt: v => mfmt(v, 0), grid: true,
    title: 'Hodogram (V2_V1 MVAV<tspan font-size="12" font-style="italic" font-family="DejaVu Serif" dy="5">remaining</tspan><tspan dy="-5"> frame)</tspan>',
    xtitle: 'V2(km/s)', ytitle: 'V1(km/s)', ytx: 612});
  drawPath(ax, hodo3B, '#00f', 'hodogram');
  lambdaLabel(ax, 686, 1093, '2', '2.28');
}
{
  const ax = axes({name: 'hodogram-v3-v1-mvav', x: 1232, y: 662, w: 456, h: 454, xd: [-27.6, 17.5], yd: [-15, 30],
    xticks: range(-20, 10, 10), yticks: range(-15, 30, 5), xfmt: v => mfmt(v, 0), yfmt: v => mfmt(v, 0), grid: true,
    title: 'Hodogram (V3_V1 MVAV<tspan font-size="12" font-style="italic" font-family="DejaVu Serif" dy="5">remaining</tspan><tspan dy="-5"> frame)</tspan>',
    xtitle: 'V3(km/s)', ytitle: 'V1(km/s)', ytx: 1170});
  drawPath(ax, hodo4B, '#00f', 'hodogram');
  lambdaLabel(ax, 1266, 1093, '3', '2.92');
}

// ---------- Time series ----------
const TD = [24, 592.5];
function tsAxes(name, top, yd, yticks, yfmt, title, ytitle) {
  return axes({name, x: 117, y: top, w: 1575, h: 222, xd: TD, yd, xticks: timeTickValues, xlabels: timeTickLabels,
    yticks, yfmt, title, ytitle, ytx: 50});
}
function tsLegend(ax, x, y, w, entries) {
  const lg = el('g', {}, ax.frameG);
  
  
  legendBox(x, y, w, entries.length * 23 + 8, lg);
  entries.forEach((e, i) => {
    const yy = y + 16 + i * 23;
    el('line', {x1: x + 8, x2: x + 30, y1: yy, y2: yy, stroke: e[1], 'stroke-width': 2.5}, lg);
    const t = txt('', {x: x + 38, y: yy + 4.5, 'font-size': 13}, lg);
    t.innerHTML = e[0];
    
    
  });
}
function zeroLine(ax) {
  const z = el('line', {x1: 117, x2: 1692, y1: ax.sy(0), y2: ax.sy(0), stroke: '#000', 'stroke-width': 1.3, 'stroke-dasharray': '10,7'}, ax.dataG);
  
  
}
{
  const ax = tsAxes('magnetic-field-rtn', 1304, [-0.8, 1.0], range(-0.8, 1.0, 0.2), v => mfmt(v, 1), 'Magnetic Field (RTN Frame)', 'B(nT)');
  zeroLine(ax);
  const a = polyline(ax, tGrid, brValues, '#f00', 1.7);
  
  
  const b = polyline(ax, tGrid, btValues, '#008000', 1.7);
  
  
  const c = polyline(ax, tGrid, bnValues, '#00f', 1.7);
  
  
  tsLegend(ax, 1610, 1311, 76, [['Br', '#f00'], ['Bt', '#008000'], ['Bn', '#00f']]);
}
{
  const ax = tsAxes('magnetic-field-flux-rope', 1639, [-1.0, 1.0], range(-1.0, 1.0, 0.5), v => mfmt(v, 1), 'Magnetic Field (Flux Rope Frame)', 'B(nT)');
  zeroLine(ax);
  const a = polyline(ax, tGrid, bxpValues, '#f00', 1.7);
  
  
  const b = polyline(ax, tGrid, bypValues, '#008000', 1.7);
  
  
  const c = polyline(ax, tGrid, bzpValues, '#00f', 1.7);
  
  
  const d = polyline(ax, tGrid, bmagValues, '#000', 2);
  
  
  tsLegend(ax, 1610, 1645, 76, [["Bx'", '#f00'], ["By'", '#008000'], ["Bz'", '#00f'], ['|B|', '#000']]);
}
{
  const ax = tsAxes('solar-wind-velocity', 1972, [-100, 800], range(-100, 800, 100), v => mfmt(v, 0), 'Solar Wind Velocity (RTN Frame)', 'Vsw(km/s)');
  const a = polyline(ax, vTimes, vrValues, '#f00', 2.6);
  
  
  const b = polyline(ax, vTimes, vtValues, '#008000', 2.6);
  
  
  const c = polyline(ax, vTimes, vnValues, '#00f', 2.6);
  
  
  tsLegend(ax, 1612, 1986, 76, [['Vr', '#f00'], ['Vt', '#008000'], ['Vn', '#00f']]);
}
{
  const ax = tsAxes('plasma-beta', 2305, [0, 8], range(0, 8, 1), v => v.toFixed(0), 'Plasma Beta',
    '<tspan font-family="DejaVu Serif" font-style="italic">β</tspan><tspan font-size="10" dy="4" font-style="italic">p</tspan><tspan dy="-4"> and </tspan><tspan font-family="DejaVu Serif" font-style="italic">β</tspan>');
  const a = polyline(ax, tGrid, betaValues, '#00f', 1.7);
  
  
  tsLegend(ax, 1616, 2312, 70, [['<tspan font-family="DejaVu Serif" font-style="italic">β</tspan><tspan font-size="9" dy="3" font-style="italic">p</tspan>', '#000']]);
}
{
  const ax = tsAxes('proton-number-density', 2638, [0.16, 0.28], range(0.16, 0.28, 0.02), v => v.toFixed(2), 'Proton Number Density', 'Np(#/cc)');
  const a = polyline(ax, tGrid, npValues, '#00f', 1.7);
  
  
}
{
  const ax = tsAxes('proton-temperature', 2973, [0.06, 0.12], range(0.06, 0.12, 0.01), v => v.toFixed(2),
    'Proton Temperature and <tspan font-family="DejaVu Serif" font-style="italic">T</tspan><tspan font-size="13" dy="4" font-style="italic">e</tspan><tspan dy="-4">/</tspan><tspan font-family="DejaVu Serif" font-style="italic">T</tspan><tspan font-size="13" dy="4" font-style="italic">p</tspan>',
    'Tp(10<tspan font-size="10" dy="-6">6</tspan><tspan dy="6">K)</tspan>');
  const a = polyline(ax, tGrid, tpValues, '#00f', 1.7);
  
  
  tsLegend(ax, 122, 2979, 74, [['Tp', '#00f']]);
}
</script>
</body>
</html>
